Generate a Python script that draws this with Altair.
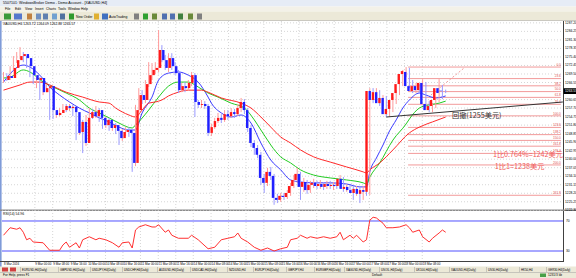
import altair as alt
import pandas as pd

# ---------------- data ----------------
OPEN = [1267.4, 1268.8, 1268.1, 1271.6, 1274.3, 1275.7, 1276.4, 1275.0, 1272.2, 1269.1,
        1267.4, 1268.1, 1263.2, 1264.6, 1265.3, 1257.0, 1255.3, 1256.0, 1257.0, 1258.4,
        1257.7, 1258.1, 1256.3, 1249.4, 1252.9, 1245.6, 1254.3, 1256.3, 1254.9, 1257.0,
        1254.3, 1251.8, 1253.6, 1250.8, 1251.8, 1249.8, 1247.3, 1249.4, 1250.1, 1249.1,
        1238.7, 1257.0, 1262.2, 1260.5, 1266.0, 1269.1, 1270.9, 1271.6, 1277.8, 1274.3,
        1271.6, 1275.0, 1272.2, 1269.8, 1263.9, 1265.3, 1264.6, 1266.4, 1269.1, 1259.8,
        1258.8, 1259.1, 1258.4, 1249.1, 1251.1, 1253.2, 1254.3, 1253.6, 1255.6, 1254.9,
        1256.3, 1255.6, 1257.7, 1259.8, 1257.0, 1250.8, 1245.6, 1243.9, 1241.5, 1233.5,
        1231.8, 1235.6, 1234.2, 1226.6, 1225.9, 1227.3, 1226.9, 1228.3, 1230.7, 1232.8,
        1234.9, 1230.4, 1232.1, 1229.3, 1231.1, 1231.8, 1230.7, 1231.4, 1230.4, 1231.4,
        1230.7, 1231.1, 1230.7, 1233.2, 1229.7, 1230.4, 1229.3, 1228.3, 1229.7, 1228.0,
        1229.3, 1228.7, 1263.6, 1260.5, 1263.2, 1259.4, 1261.2, 1255.6, 1257.4, 1260.5,
        1262.9, 1266.0, 1269.5, 1270.2, 1265.3, 1263.6, 1265.3, 1263.9, 1266.4, 1259.1,
        1257.0, 1258.4, 1260.5, 1264.6, 1263.72]
HIGH = [1270.2, 1269.8, 1272.2, 1275.7, 1277.1, 1278.8, 1277.1, 1275.7, 1272.9, 1270.2,
        1268.8, 1268.4, 1265.7, 1266.0, 1266.0, 1257.7, 1256.7, 1257.7, 1259.1, 1259.1,
        1259.1, 1258.8, 1257.0, 1254.3, 1253.6, 1255.3, 1257.7, 1257.4, 1258.4, 1257.7,
        1254.9, 1254.6, 1254.3, 1252.9, 1252.5, 1250.5, 1250.5, 1251.1, 1251.1, 1250.1,
        1258.8, 1264.6, 1263.9, 1267.4, 1273.6, 1273.3, 1273.6, 1284.7, 1279.5, 1276.1,
        1276.7, 1276.7, 1273.6, 1270.9, 1266.4, 1266.7, 1267.4, 1270.2, 1269.8, 1260.5,
        1260.5, 1260.1, 1259.1, 1252.2, 1254.3, 1256.0, 1255.6, 1257.0, 1257.0, 1257.7,
        1257.4, 1259.1, 1261.2, 1260.8, 1257.7, 1251.8, 1246.6, 1244.9, 1242.5, 1234.9,
        1237.0, 1237.3, 1234.9, 1228.0, 1228.3, 1228.3, 1229.3, 1231.8, 1234.5, 1237.0,
        1235.6, 1233.5, 1232.8, 1232.5, 1233.2, 1232.5, 1232.8, 1232.1, 1232.5, 1232.5,
        1232.1, 1232.1, 1234.5, 1233.8, 1231.4, 1231.1, 1230.7, 1230.7, 1230.4, 1230.7,
        1230.4, 1264.6, 1264.6, 1264.6, 1263.9, 1262.2, 1261.9, 1258.4, 1261.5, 1263.9,
        1267.4, 1270.9, 1271.9, 1271.6, 1267.4, 1266.4, 1266.0, 1267.7, 1266.7, 1260.1,
        1259.4, 1261.5, 1267.7, 1265.7, 1264.09]
LOW = [1266.4, 1267.1, 1267.4, 1270.9, 1273.3, 1274.7, 1273.6, 1271.6, 1268.4, 1266.0,
       1264.6, 1260.5, 1262.2, 1263.2, 1253.6, 1253.9, 1254.3, 1254.9, 1256.0, 1256.3,
       1256.7, 1254.9, 1246.6, 1248.4, 1242.1, 1244.6, 1253.2, 1253.9, 1254.3, 1252.9,
       1250.5, 1250.8, 1249.8, 1249.8, 1248.7, 1244.9, 1246.3, 1248.0, 1247.7, 1235.6,
       1237.6, 1256.3, 1259.1, 1259.4, 1265.0, 1267.4, 1269.5, 1270.2, 1273.6, 1270.9,
       1270.2, 1270.9, 1269.1, 1262.9, 1263.2, 1263.2, 1263.9, 1265.3, 1254.6, 1257.7,
       1257.7, 1257.4, 1248.0, 1248.0, 1250.5, 1252.5, 1252.5, 1252.9, 1253.6, 1254.3,
       1254.3, 1254.9, 1256.3, 1255.6, 1249.4, 1244.2, 1241.5, 1240.4, 1231.1, 1228.3,
       1230.7, 1232.8, 1224.2, 1224.8, 1225.2, 1225.9, 1226.2, 1227.3, 1230.0, 1231.8,
       1225.9, 1228.7, 1228.0, 1228.3, 1230.0, 1229.7, 1229.7, 1229.3, 1229.7, 1229.7,
       1229.3, 1229.7, 1230.0, 1228.7, 1228.7, 1228.3, 1225.9, 1227.3, 1224.8, 1225.9,
       1227.3, 1227.6, 1259.4, 1259.8, 1258.4, 1258.4, 1254.6, 1254.9, 1256.3, 1259.1,
       1262.2, 1265.3, 1268.4, 1264.6, 1262.9, 1262.9, 1262.9, 1263.2, 1258.1, 1256.3,
       1256.3, 1257.7, 1259.8, 1260.8, 1262.88]
CLOSE = [1268.8, 1268.1, 1271.6, 1274.3, 1275.7, 1276.4, 1275.0, 1272.2, 1269.1, 1267.4,
         1268.1, 1263.2, 1264.6, 1265.3, 1257.0, 1255.3, 1256.0, 1257.0, 1258.4, 1257.7,
         1258.1, 1256.3, 1249.1, 1252.9, 1245.6, 1254.3, 1256.3, 1254.9, 1257.0, 1254.3,
         1251.8, 1253.6, 1250.8, 1251.8, 1249.8, 1247.3, 1249.4, 1250.1, 1249.1, 1238.7,
         1257.0, 1262.2, 1260.5, 1266.0, 1269.1, 1270.9, 1271.6, 1277.8, 1274.3, 1271.6,
         1275.0, 1272.2, 1269.8, 1263.9, 1265.3, 1264.6, 1266.4, 1269.1, 1259.8, 1258.8,
         1259.1, 1258.4, 1249.1, 1251.1, 1253.2, 1254.3, 1253.6, 1255.6, 1254.9, 1256.3,
         1255.6, 1257.7, 1259.8, 1257.0, 1250.8, 1245.6, 1243.9, 1241.5, 1233.5, 1231.8,
         1235.6, 1234.2, 1226.6, 1225.9, 1227.3, 1226.9, 1228.3, 1230.7, 1232.8, 1234.9,
         1230.4, 1232.1, 1229.3, 1231.1, 1231.8, 1230.7, 1231.4, 1230.4, 1231.4, 1230.7,
         1231.1, 1230.7, 1233.2, 1229.7, 1230.4, 1229.3, 1228.3, 1229.7, 1228.0, 1229.3,
         1228.7, 1263.6, 1260.5, 1263.2, 1259.4, 1261.2, 1255.6, 1257.4, 1260.5, 1262.9,
         1266.0, 1269.5, 1270.5, 1265.3, 1263.6, 1265.3, 1263.9, 1266.4, 1259.1, 1257.0,
         1258.4, 1260.5, 1264.6, 1262.9, 1263.57]

MA_FAST_I = [0, 6, 8, 11, 14, 17, 20, 23, 26, 29, 32, 35, 38, 40, 42, 45, 47, 50, 53, 56,
             59, 62, 63, 66, 69, 72, 75, 78, 81, 84, 87, 90, 94, 99, 104, 108, 110, 111,
             113, 115, 117, 119, 121, 123, 126, 128, 131, 134]
MA_FAST = [1266.7, 1272.6, 1271.9, 1269.1, 1265.0, 1262.2, 1259.8, 1257.7, 1256.0, 1254.3,
           1252.9, 1251.1, 1250.1, 1250.1, 1256.0, 1261.5, 1267.4, 1269.8, 1270.2, 1269.1,
           1266.7, 1261.5, 1259.4, 1256.0, 1254.6, 1255.3, 1252.5, 1245.6, 1239.7, 1236.3,
           1232.8, 1232.1, 1231.8, 1231.8, 1231.4, 1230.4, 1230.4, 1235.6, 1240.4, 1244.9,
           1249.8, 1253.6, 1257.7, 1260.5, 1262.9, 1262.2, 1261.2, 1261.9]
MA_MID_I = [0, 2, 6, 8, 12, 15, 19, 23, 26, 29, 32, 35, 39, 40, 44, 47, 50, 53, 56, 59,
            62, 65, 69, 73, 76, 78, 80, 81, 84, 87, 90, 94, 99, 104, 109, 110, 111, 114,
            118, 122, 123, 126, 129, 132, 134]
MA_MID = [1268.1, 1268.4, 1270.9, 1270.2, 1266.7, 1265.0, 1262.9, 1260.5, 1257.7, 1256.0,
          1254.3, 1252.5, 1250.8, 1251.8, 1257.0, 1261.5, 1265.3, 1266.7, 1266.7, 1265.0,
          1262.9, 1261.5, 1259.4, 1257.7, 1253.6, 1250.1, 1246.6, 1244.9, 1240.8, 1238.7,
          1236.3, 1234.5, 1233.5, 1232.8, 1231.8, 1231.4, 1233.8, 1238.7, 1246.6, 1252.2,
          1253.9, 1257.7, 1258.8, 1259.4, 1260.1]
MA_SLOW_I = [0, 5, 8, 11, 14, 19, 24, 29, 32, 34, 38, 40, 42, 44, 46, 48, 50, 53, 56, 60,
             62, 66, 72, 75, 78, 81, 84, 87, 90, 94, 99, 104, 109, 110, 111, 114, 118, 123,
             126, 130, 134]
MA_SLOW = [1263.9, 1265.7, 1266.7, 1266.7, 1265.7, 1263.2, 1261.5, 1259.8, 1259.4, 1257.7,
           1255.3, 1254.6, 1257.0, 1259.4, 1259.8, 1260.5, 1261.9, 1263.2, 1263.9, 1263.9,
           1263.2, 1261.2, 1259.4, 1257.7, 1254.6, 1251.1, 1247.7, 1245.6, 1243.2, 1240.8,
           1239.0, 1237.3, 1235.6, 1235.2, 1236.3, 1238.7, 1243.2, 1249.1, 1251.1, 1252.9,
           1254.6]

RSI_I = [0, 2, 4, 5, 6, 7, 8, 9, 12, 14, 17, 18, 19, 20, 22, 23, 24, 25, 26, 28, 29, 31,
         33, 35, 36, 38, 39, 40, 41, 43, 45, 46, 47, 49, 50, 51, 53, 56, 57, 59, 62, 64,
         66, 68, 70, 71, 72, 74, 76, 78, 80, 82, 84, 86, 87, 89, 90, 92, 93, 95, 97, 99,
         101, 102, 103, 105, 106, 107, 109, 110, 111, 112, 113, 115, 116, 118, 120, 122,
         123, 124, 126, 127, 129, 130, 132, 133, 134]
RSI = [51, 61, 59, 61, 55, 45, 47, 42, 41, 31, 31, 38, 42, 35, 41, 34, 45, 47, 49, 45, 47,
       45, 41, 35, 41, 42, 34, 58, 62, 65, 62, 62, 65, 55, 58, 51, 47, 47, 51, 45, 33, 35,
       45, 47, 49, 54, 47, 42, 35, 31, 34, 30, 33, 35, 45, 47, 51, 47, 49, 47, 49, 47, 49,
       55, 45, 51, 47, 51, 42, 45, 71, 75, 74, 67, 61, 61, 62, 65, 61, 55, 58, 49, 42, 47,
       54, 58, 55]
RSI_LEVELS = [70, 30]
RSI_LEVEL_LABELS = ["70", "30"]

FIB_LABELS = ["0.0", "23.6", "38.2", "50.0", "61.8", "76.4", "100.0", "123.6", "138.2",
              "150.0", "161.8", "176.4", "200.0", "261.8"]
FIB_PRICES = [1271.9, 1267.9, 1265.4, 1263.4, 1261.4, 1259.0, 1255.0, 1251.0, 1248.5,
              1246.5, 1244.5, 1242.0, 1238.0, 1227.5]
FIB_FROM_I = 122.6
FIB_TO_I = 168.9

TREND_I = [116, 169.5]
TREND_P = [1254.6, 1259.8]
FIBDIAG_I = [129.5, 139.6]
FIBDIAG_P = [1262.2, 1271.6]

PRICE_TICKS = [1287.20, 1284.25, 1281.30, 1278.35, 1275.40, 1272.45, 1269.50, 1266.55,
               1260.65, 1257.70, 1254.75, 1251.80, 1248.85, 1245.90, 1242.95, 1240.00,
               1237.05, 1234.10, 1231.15, 1228.20, 1225.25, 1222.30]
BID = 1263.57

TIME_LABELS = ["8 Mar 2016", "9 Mar 00:00", "9 Mar 08:00", "9 Mar 16:00", "10 Mar 00:00",
               "10 Mar 08:00", "10 Mar 16:00", "11 Mar 00:00", "11 Mar 08:00",
               "11 Mar 16:00", "14 Mar 00:00", "14 Mar 08:00", "14 Mar 16:00",
               "15 Mar 00:00", "15 Mar 08:00", "15 Mar 16:00", "16 Mar 00:00",
               "16 Mar 08:00", "16 Mar 16:00", "17 Mar 00:00", "17 Mar 08:00",
               "17 Mar 16:00", "18 Mar 00:00", "18 Mar 08:00"]
TIME_I = [0, 9.5, 14.9, 20.2, 25.5, 30.9, 36.2, 41.5, 46.9, 52.2, 57.5, 62.9, 68.2, 73.5,
          78.9, 84.2, 89.5, 94.9, 100.2, 105.5, 110.9, 116.2, 121.5, 126.9]

ANNOT_TEXT = ["回撤(1255美元)", "1比0.764%=1242美元", "1比1=1238美元"]
ANNOT_I = [135.9, 148.3, 148.9]
ANNOT_P = [1255.0, 1241.6, 1237.4]

HEADER = "XAUUSD,H4  1263.72 1264.09 1262.88 1263.57"
RSI_HEADER = "RSI(14) 54.96"
TITLE = "5507101: WindowsBroker Demo - Demo Account - [XAUUSD,H4]"
MENU = ["File", "Edit", "View", "Insert", "Charts", "Tools", "Window", "Help"]
MENU_X = [5, 15, 25, 35, 46, 58, 68, 81]
TABS = ["EURUSD,H4(Daily)", "GBPUSD,H4(Daily)", "USDJPY,H4(Daily)", "USDCHF,H4(Daily)",
        "AUDUSD,H4(Daily)", "USDCAD,H4(Daily)", "NZDUSD,H4", "EURJPY,H4(Daily)",
        "GBPJPY,H4", "EURGBP,H4(Daily)", "XAGUSD,H4(Daily)", "USOIL,H4(Daily)",
        "UK100,H4(Daily)", "XAUUSD,H4(Daily)", "US30,H4(Daily)", "HK50,H4",
        "GER30,H4(Daily)", "JPN225,H4"]
TAB_X = [20, 58, 90, 122, 157, 190, 227, 253, 286, 314, 344, 379, 414, 449, 486, 519, 546]
STATUS = ["For Help, press F1", "Default", "1231/3 kb"]
STATUS_X = [3, 372, 548]

# ---------------- scales ----------------
XS = alt.Scale(domain=[0, 134], range=[3.5, 445.7], nice=False, zero=False)
YS = alt.Scale(domain=[1222.4, 1287.5], range=[210, 22], nice=False, zero=False)
RS = alt.Scale(domain=[16.7, 83.3], range=[261, 211], nice=False, zero=False)
FONT = "Liberation Sans"


def xq(f):
    return alt.X(f, type="quantitative", scale=XS, axis=None)


def yq(f, s=YS):
    return alt.Y(f, type="quantitative", scale=s, axis=None)


def px(f):
    return alt.X(f, type="quantitative", scale=None, axis=None)


def py(f):
    return alt.Y(f, type="quantitative", scale=None, axis=None)


# ---------------- frames ----------------
candles = pd.DataFrame({"i": range(len(CLOSE)), "open": OPEN, "high": HIGH,
                        "low": LOW, "close": CLOSE})
candles["dir"] = ["up" if c >= o else "down" for o, c in zip(OPEN, CLOSE)]

ma = pd.concat([
    pd.DataFrame({"i": MA_FAST_I, "v": MA_FAST, "ma": "fast"}),
    pd.DataFrame({"i": MA_MID_I, "v": MA_MID, "ma": "mid"}),
    pd.DataFrame({"i": MA_SLOW_I, "v": MA_SLOW, "ma": "slow"}),
])
rsi = pd.DataFrame({"i": RSI_I, "v": RSI})
fib = pd.DataFrame({"p": FIB_PRICES, "lab": FIB_LABELS, "a": FIB_FROM_I, "b": FIB_TO_I})

# window chrome (pixel boxes)
rect_rows = [
    (0, 576, 0, 6.5, "#e6ecf6"),
    (0, 576, 6.5, 11.5, "#f3f1e8"),
    (0, 576, 11.5, 21, "#ece9d8"),
    (0, 576, 20.5, 21, "#a8a8a8"),
    (0, 576, 21, 267, "#ffffff"),
    (0, 1.6, 21, 267, "#7f9bd8"),
    (563, 564, 21, 262, "#404040"),
    (0, 576, 209.5, 211, "#8c8c8c"),
    (0, 564, 261, 262, "#404040"),
    (0, 576, 266.5, 272, "#ece9d8"),
    (0, 576, 272, 278, "#ece9d8"),
    (0, 576, 272, 272.6, "#a0a0a0"),
    (2, 8, 267.5, 271.5, "#d04040"),
    (10, 16, 267.5, 271.5, "#d04040"),
    (540, 546, 273.5, 277, "#48a048"),
]
icon_rows = [(4, 11, "#3a9a3a"), (14, 22, "#5577cc"), (27, 32, "#c08040"),
             (36, 41, "#7090c0"), (43, 48, "#6080b0"), (52, 57, "#70a0d0"),
             (60, 65, "#5070a0"), (69, 74, "#2f9a2f"), (94, 99, "#e0b030"),
             (102, 108, "#4070c0"), (134, 139, "#808080"), (143, 148, "#30a030"),
             (152, 157, "#6a8a3a"), (162, 167, "#5070b0"), (170, 175, "#5070b0"),
             (178, 183, "#408040"), (188, 193, "#6a8a3a"), (197, 202, "#808080")]
rect_rows += [(a, b, 13.5, 19.5, c) for a, b, c in icon_rows]
rect_rows += [(x + 0.5, x + 1, 267, 272, "#a0a0a0") for x in TAB_X]
rects = pd.DataFrame(rect_rows, columns=["x", "x2", "y", "y2", "c"])

bg = alt.Chart(rects).mark_rect().encode(x=px("x"), x2="x2", y=py("y"), y2="y2",
                                         color=alt.Color("c:N", scale=None))

# grid
hgrid = alt.Chart(pd.DataFrame({"p": PRICE_TICKS})).mark_rule(
    color="#cccccc", strokeDash=[1, 2], strokeWidth=0.8).encode(
    y=yq("p"), x=alt.value(2), x2=alt.value(563))
vgrid = alt.Chart(pd.DataFrame({"i": TIME_I[1:]})).mark_rule(
    color="#cccccc", strokeDash=[1, 2], strokeWidth=0.8).encode(
    x=xq("i"), y=alt.value(21), y2=alt.value(261))

# fibonacci
fib_lines = alt.Chart(fib).mark_rule(color="#f29a9a", strokeWidth=1).encode(
    x=xq("a"), x2="b", y=yq("p"))
fib_text = alt.Chart(fib).mark_text(align="right", baseline="bottom", dy=-0.3,
                                    fontSize=3.2, color="#e05050", font=FONT).encode(
    x=xq("b"), y=yq("p"), text="lab:N")
fib_diag = alt.Chart(pd.DataFrame({"i": FIBDIAG_I, "p": FIBDIAG_P})).mark_line(
    color="#f29a9a", strokeDash=[2, 2], strokeWidth=1).encode(x=xq("i"), y=yq("p"))

# candles
wick = alt.Chart(candles).mark_rule(strokeWidth=1).encode(
    x=xq("i"), y=yq("low"), y2="high",
    color=alt.Color("dir:N", scale=alt.Scale(domain=["up", "down"],
                                             range=["#ff9a9a", "#9a9aff"]), legend=None))
body = alt.Chart(candles).mark_bar(size=2.4).encode(
    x=xq("i"), y=yq("open"), y2="close",
    color=alt.Color("dir:N", scale=alt.Scale(domain=["up", "down"],
                                             range=["#ff1a1a", "#2020ff"]), legend=None))

# moving averages
ma_lines = alt.Chart(ma).mark_line(interpolate="monotone").encode(
    x=xq("i"), y=yq("v"),
    color=alt.Color("ma:N", scale=alt.Scale(domain=["fast", "mid", "slow"],
                                            range=["#3a3aff", "#22cc22", "#ff2a2a"]),
                    legend=None),
    strokeWidth=alt.StrokeWidth("ma:N", scale=alt.Scale(domain=["fast", "mid", "slow"],
                                                        range=[1, 1, 1.5]), legend=None),
    detail="ma:N")

trend = alt.Chart(pd.DataFrame({"i": TREND_I, "p": TREND_P})).mark_line(
    color="#333333", strokeWidth=1).encode(x=xq("i"), y=yq("p"))

annot = alt.Chart(pd.DataFrame({"i": ANNOT_I, "p": ANNOT_P, "t": ANNOT_TEXT,
                                "c": ["#333333", "#f05a5a", "#f05a5a"]})).mark_text(
    align="left", baseline="middle", fontSize=7.2, font="Noto Sans CJK SC").encode(
    x=xq("i"), y=yq("p"), text="t:N", color=alt.Color("c:N", scale=None))

# RSI
rsi_levels = alt.Chart(pd.DataFrame({"v": RSI_LEVELS, "t": RSI_LEVEL_LABELS})).mark_rule(
    color="#5050ff", strokeWidth=1).encode(y=yq("v", RS), x=alt.value(2), x2=alt.value(563))
rsi_level_txt = alt.Chart(pd.DataFrame({"v": RSI_LEVELS, "t": RSI_LEVEL_LABELS})).mark_text(
    align="left", baseline="middle", fontSize=3.3, color="#000000", font=FONT).encode(
    y=yq("v", RS), x=alt.value(566), text="t:N")
rsi_line = alt.Chart(rsi).mark_line(color="#ff3030", strokeWidth=1).encode(
    x=xq("i"), y=yq("v", RS))

# price axis labels
ptxt = alt.Chart(pd.DataFrame({"p": PRICE_TICKS})).mark_text(
    align="left", baseline="middle", fontSize=3.3, color="#000000", font=FONT).encode(
    y=yq("p"), x=alt.value(565), text=alt.Text("p:Q", format=".2f"))
bidbox = alt.Chart(pd.DataFrame({"a": [BID + 1.0], "b": [BID - 1.0]})).mark_rect(
    color="#000000").encode(y=yq("a"), y2="b", x=alt.value(563.5), x2=alt.value(576))
bidtxt = alt.Chart(pd.DataFrame({"p": [BID]})).mark_text(
    align="left", baseline="middle", fontSize=3.3, color="#ffffff", font=FONT).encode(
    y=yq("p"), x=alt.value(565), text=alt.Text("p:Q", format=".2f"))

# time axis
ttxt = alt.Chart(pd.DataFrame({"i": TIME_I, "t": TIME_LABELS})).mark_text(
    align="left", baseline="middle", fontSize=3.0, color="#000000",
    font=FONT, dx=0.5).encode(x=xq("i"), y=alt.value(263.8), text="t:N")

# chrome texts
chrome_rows = [(3, 3.3, TITLE, 3.6), (3, 24.3, HEADER, 3.4), (3, 213.5, RSI_HEADER, 3.4),
               (76, 16.5, "New Order", 3.4), (109, 16.5, "AutoTrading", 3.4)]
chrome_rows += [(x, 9.0, m, 3.4) for x, m in zip(MENU_X, MENU)]
chrome_rows += [(x + 2, 269.5, t, 2.9) for x, t in zip(TAB_X, TABS)]
chrome_rows += [(x, 275.3, t, 3.2) for x, t in zip(STATUS_X, STATUS)]
chrome_txt = pd.DataFrame(chrome_rows, columns=["x", "y", "t", "s"])
ctext = alt.Chart(chrome_txt).mark_text(align="left", baseline="middle", font=FONT,
                                        color="#000000").encode(
    x=px("x"), y=py("y"), text="t:N", size=alt.Size("s:Q", scale=None))

chart = alt.layer(
    bg, hgrid, vgrid, fib_lines, fib_diag, fib_text, rsi_levels, rsi_line,
    ma_lines, wick, body, trend, annot, bidbox, ptxt, bidtxt, rsi_level_txt, ttxt, ctext
).resolve_scale(x="independent", y="independent", color="independent",
                size="independent", strokeWidth="independent").properties(
    width=576, height=278, padding=0, autosize=alt.AutoSizeParams(type="none")
).configure_view(stroke=None)

chart.save("out.html", embed_options={"renderer": "svg", "actions": False})
